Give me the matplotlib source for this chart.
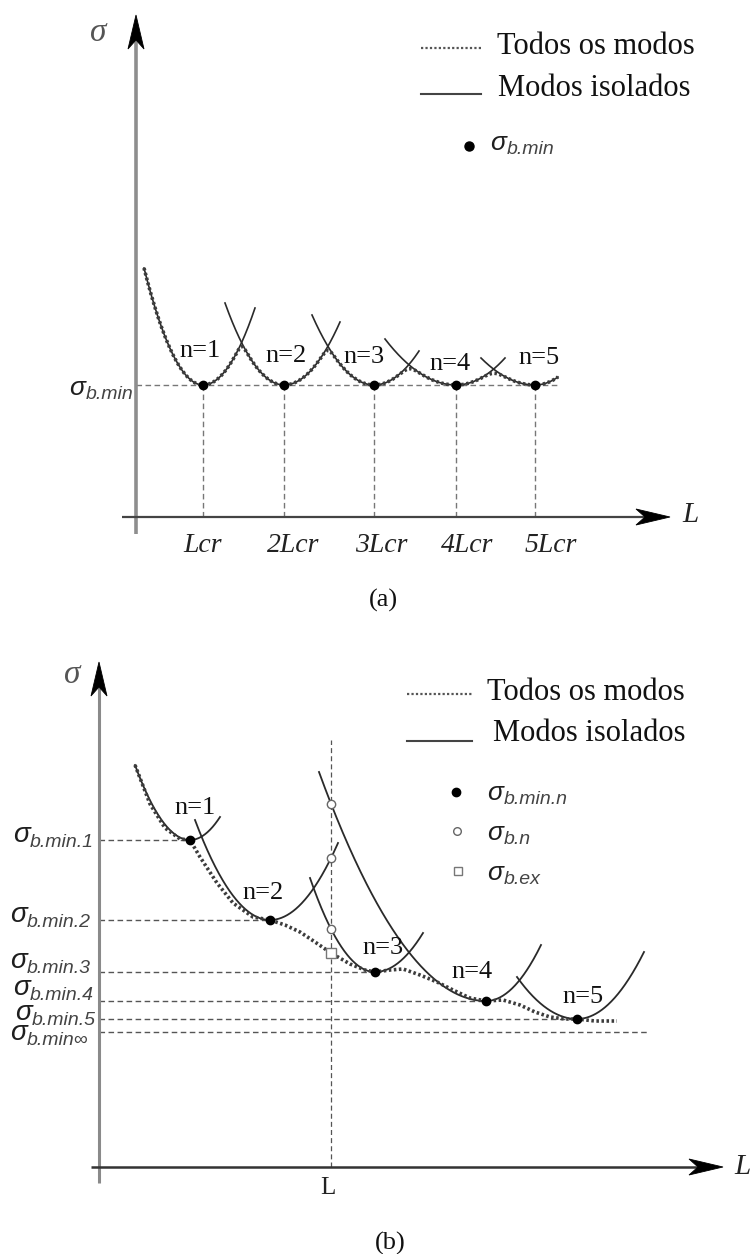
import numpy as np
import matplotlib
matplotlib.use('Agg')
import matplotlib.pyplot as plt
from matplotlib.patches import Polygon

plt.rcParams['font.family'] = ['Liberation Serif', 'DejaVu Serif']

# ---------------- panel (a) data ----------------
a_modes = [1, 2, 3, 4, 5]
a_L_min = [0.67, 1.48, 2.38, 3.20, 3.99]
a_sigma_min = 1.32
a_left_L = [0.08, 0.89, 1.76, 2.49, 3.45]
a_left_sigma = [2.49, 2.14, 2.02, 1.78, 1.59]
a_right_L = [1.19, 2.04, 2.83, 3.69, 4.22]
a_right_sigma = [2.09, 1.95, 1.66, 1.59, 1.40]
a_tick_labels = ['Lcr', '2Lcr', '3Lcr', '4Lcr', '5Lcr']
a_tick_label_L = [0.67, 1.57, 2.45, 3.31, 4.15]

# ---------------- panel (b) data ----------------
b_modes = [1, 2, 3, 4, 5]
b_L_min = [0.91, 1.71, 2.76, 3.87, 4.78]
b_sigma_min = [3.27, 2.47, 1.95, 1.66, 1.48]
b_sigma_inf = 1.35
b_left_L = [0.36, 0.96, 2.11, 2.20, 4.18]
b_left_sigma = [4.02, 3.47, 2.89, 3.95, 1.90]
b_right_L = [1.21, 2.39, 3.24, 4.42, 5.45]
b_right_sigma = [3.50, 3.24, 2.34, 2.22, 2.15]
b_L_section = 2.32
b_circle_modes = [2, 3, 4]
b_sigma_ex = 2.14
b_env_L = [0.36, 0.51, 0.66, 0.81, 0.91, 1.01, 1.18, 1.34, 1.54, 1.71, 1.86,
           2.01, 2.16, 2.32, 2.51, 2.66, 2.76, 2.91, 3.04, 3.21, 3.38, 3.54,
           3.71, 3.87, 4.04, 4.21, 4.36, 4.51, 4.66, 4.78, 4.96, 5.18]
b_env_sigma = [4.02, 3.63, 3.39, 3.28, 3.27, 3.10, 2.84, 2.64, 2.50, 2.47, 2.42,
               2.35, 2.25, 2.14, 2.03, 1.97, 1.95, 1.97, 1.98, 1.92, 1.85, 1.77,
               1.69, 1.66, 1.67, 1.62, 1.55, 1.50, 1.48, 1.48, 1.46, 1.46]
b_level_subs = ['b.min.1', 'b.min.2', 'b.min.3', 'b.min.4', 'b.min.5', 'b.min∞']

SOLID = '#2a2a2a'
DOT = '#3c3c3c'
DASH = '#777777'
SANS = ['Liberation Sans', 'DejaVu Sans']


def mode_curve(Lmin, smin, Ll, sl, Lr, sr, L=None):
    cl = (sl - smin) / (Lmin - Ll) ** 2
    cr = (sr - smin) / (Lr - Lmin) ** 2
    if L is None:
        L = np.linspace(Ll, Lr, 300)
    L = np.asarray(L, dtype=float)
    s = np.where(L < Lmin, smin + cl * (L - Lmin) ** 2, smin + cr * (L - Lmin) ** 2)
    return L, s


def axis_arrow(ax, x0, y0, x1, y1, shaft_color, lw, head_len=0.34, head_w=0.08, notch=0.09):
    d = np.array([x1 - x0, y1 - y0], dtype=float)
    u = d / np.hypot(*d)
    nrm = np.array([-u[1], u[0]])
    tip = np.array([x1, y1])
    base = tip - u * head_len
    inner = tip - u * (head_len - notch)
    ax.plot([x0, inner[0]], [y0, inner[1]], color=shaft_color, lw=lw,
            solid_capstyle='butt', zorder=3)
    ax.add_patch(Polygon([tip, base + nrm * head_w, inner, base - nrm * head_w],
                         closed=True, facecolor='black', edgecolor='black', lw=0.6, zorder=4))


def sigma_label(ax, x, y, sub, size=19, subsize=14):
    t = ax.text(x, y, 'σ', fontsize=size, family=SANS, style='italic',
                ha='left', va='baseline', color='#1e1e1e')
    ax.annotate(sub, xy=(1, 0), xycoords=t, xytext=(0.3, 0.6), textcoords='offset points',
                fontsize=subsize, family=SANS, style='italic', ha='left', va='baseline',
                color='#444444')


W, H = 750, 1254
fig = plt.figure(figsize=(W / 100, H / 100), dpi=100)

# axes: 100 px per data unit in both directions
ax_a = fig.add_axes([0, 0.5, 1, 0.5])
ax_a.set_xlim(-1.36, 6.14)
ax_a.set_ylim(-1.10, 5.17)
ax_b = fig.add_axes([0, 0, 1, 0.5])
ax_b.set_xlim(-0.99, 6.51)
ax_b.set_ylim(-0.87, 5.40)
for ax in (ax_a, ax_b):
    ax.set_axis_off()

dash_kw = dict(color=DASH, lw=1.0, dashes=(4, 2.5), zorder=1)

# ======================= panel (a) =======================
ax = ax_a
axis_arrow(ax, 0, -0.17, 0, 5.02, '#8e8e8e', 2.6)
axis_arrow(ax, -0.14, 0, 5.34, 0, '#444444', 1.6)
ax.text(-0.38, 4.84, 'σ', fontsize=24, style='italic', color='#555555',
        ha='center', va='center')
ax.text(5.54, 0.02, 'L', fontsize=21, style='italic', color='#222222',
        ha='center', va='center')

ax.plot([0, max(a_right_L)], [a_sigma_min, a_sigma_min], **dash_kw)
for Lm in a_L_min:
    ax.plot([Lm, Lm], [0, a_sigma_min], **dash_kw)

grid = np.linspace(min(a_left_L), max(a_right_L), 600)
stack = []
for i in range(len(a_modes)):
    L, s = mode_curve(a_L_min[i], a_sigma_min, a_left_L[i], a_left_sigma[i],
                      a_right_L[i], a_right_sigma[i])
    ax.plot(L, s, color=SOLID, lw=1.2, zorder=2)
    _, sg = mode_curve(a_L_min[i], a_sigma_min, a_left_L[i], a_left_sigma[i],
                       a_right_L[i], a_right_sigma[i], grid)
    stack.append(sg)
stack = np.array(stack)
T = 0.06
smin_all = stack.min(axis=0)
env = smin_all - T * np.log(np.sum(np.exp(-(stack - smin_all) / T), axis=0))
ax.plot(grid, env, color=DOT, lw=2.6, linestyle=(0, (0.7, 0.7)), zorder=3)
ax.plot(a_L_min, [a_sigma_min] * len(a_L_min), 'o', color='black', ms=6, zorder=5)

a_label_dx = [-0.03, 0.02, -0.10, -0.06, 0.04]
a_label_dy = [0.34, 0.29, 0.28, 0.21, 0.27]
for i, n in enumerate(a_modes):
    ax.text(a_L_min[i] + a_label_dx[i], a_sigma_min + a_label_dy[i], f'n={n}',
            fontsize=19, ha='center', va='center', color='#111111')

for lab, x in zip(a_tick_labels, a_tick_label_L):
    ax.text(x, -0.29, lab, fontsize=20, style='italic', ha='center', va='center',
            color='#222222')
sigma_label(ax, -0.67, a_sigma_min - 0.10, 'b.min')

# legend (a)
ax.plot([2.85, 3.45], [4.69, 4.69], color='#555555', lw=1.6, linestyle=(0, (1, 1)))
ax.text(3.61, 4.70, 'Todos os modos', fontsize=22, ha='left', va='center', color='#111111')
ax.plot([2.85, 3.45], [4.23, 4.23], color='#444444', lw=1.5)
ax.text(3.62, 4.28, 'Modos isolados', fontsize=22, ha='left', va='center', color='#111111')
ax.plot([3.33], [3.71], 'o', color='black', ms=6.5)
sigma_label(ax, 3.54, 3.67, 'b.min')
ax.text(2.47, -0.83, '(a)', fontsize=19, ha='center', va='center', color='#111111')

# ======================= panel (b) =======================
ax = ax_b
axis_arrow(ax, 0, -0.16, 0, 5.05, '#8a8a8a', 2.2)
axis_arrow(ax, -0.08, 0, 6.24, 0, '#333333', 1.8)
ax.text(-0.27, 4.92, 'σ', fontsize=24, style='italic', color='#555555',
        ha='center', va='center')
ax.text(6.43, 0.0, 'L', fontsize=21, style='italic', color='#222222',
        ha='center', va='center', clip_on=False)
ax.text(b_L_section - 0.03, -0.21, 'L', fontsize=18, ha='center', va='center', color='#222222')

levels = list(b_sigma_min) + [b_sigma_inf]
level_ends = list(b_L_min) + [5.48]
level_label_x = [-0.86, -0.89, -0.89, -0.86, -0.84, -0.89]
level_label_base = [3.25, 2.45, 1.99, 1.72, 1.47, 1.27]
for lev, end, sub, xl, yb in zip(levels, level_ends, b_level_subs, level_label_x, level_label_base):
    ax.plot([0, end], [lev, lev], color='#555555', lw=1.0, dashes=(4, 2.5), zorder=1)
    sigma_label(ax, xl, yb, sub, size=20, subsize=14)
ax.plot([b_L_section, b_L_section], [0, 4.27], color='#555555', lw=0.9,
        dashes=(4, 2.5), zorder=1)

for i, n in enumerate(b_modes):
    L, s = mode_curve(b_L_min[i], b_sigma_min[i], b_left_L[i], b_left_sigma[i],
                      b_right_L[i], b_right_sigma[i])
    ax.plot(L, s, color=SOLID, lw=1.3, zorder=2)
ax.plot(b_env_L, b_env_sigma, color=DOT, lw=2.6, linestyle=(0, (0.7, 0.7)), zorder=3)
ax.plot(b_L_min, b_sigma_min, 'o', color='black', ms=6, zorder=5)
for n in b_circle_modes:
    i = b_modes.index(n)
    _, sc = mode_curve(b_L_min[i], b_sigma_min[i], b_left_L[i], b_left_sigma[i],
                       b_right_L[i], b_right_sigma[i], [b_L_section])
    ax.plot([b_L_section], sc, 'o', mfc='white', mec='#666666', mew=1.0, ms=6, zorder=6)
ax.plot([b_L_section], [b_sigma_ex], 's', mfc='white', mec='#777777', mew=1.0, ms=6.5, zorder=6)

b_label_pos = [(0.96, 3.59), (1.64, 2.74), (2.84, 2.19), (3.73, 1.95), (4.84, 1.70)]
for n, (x, y) in zip(b_modes, b_label_pos):
    ax.text(x, y, f'n={n}', fontsize=19, ha='center', va='center', color='#111111')

# legend (b)
ax.plot([3.08, 3.73], [4.73, 4.73], color='#555555', lw=1.6, linestyle=(0, (1, 1)))
ax.text(3.88, 4.75, 'Todos os modos', fontsize=22, ha='left', va='center', color='#111111')
ax.plot([3.08, 3.73], [4.26, 4.26], color='#444444', lw=1.5)
ax.text(3.94, 4.34, 'Modos isolados', fontsize=22, ha='left', va='center', color='#111111')
ax.plot([3.57], [3.75], 'o', color='black', ms=6)
sigma_label(ax, 3.88, 3.67, 'b.min.n')
ax.plot([3.58], [3.36], 'o', mfc='white', mec='#666666', mew=1.0, ms=5.5)
sigma_label(ax, 3.88, 3.27, 'b.n')
ax.plot([3.59], [2.96], 's', mfc='white', mec='#777777', mew=1.0, ms=5.5)
sigma_label(ax, 3.88, 2.87, 'b.ex')
ax.text(2.91, -0.76, '(b)', fontsize=19, ha='center', va='center', color='#111111')

fig.savefig('out.png', dpi=100, facecolor='white')
